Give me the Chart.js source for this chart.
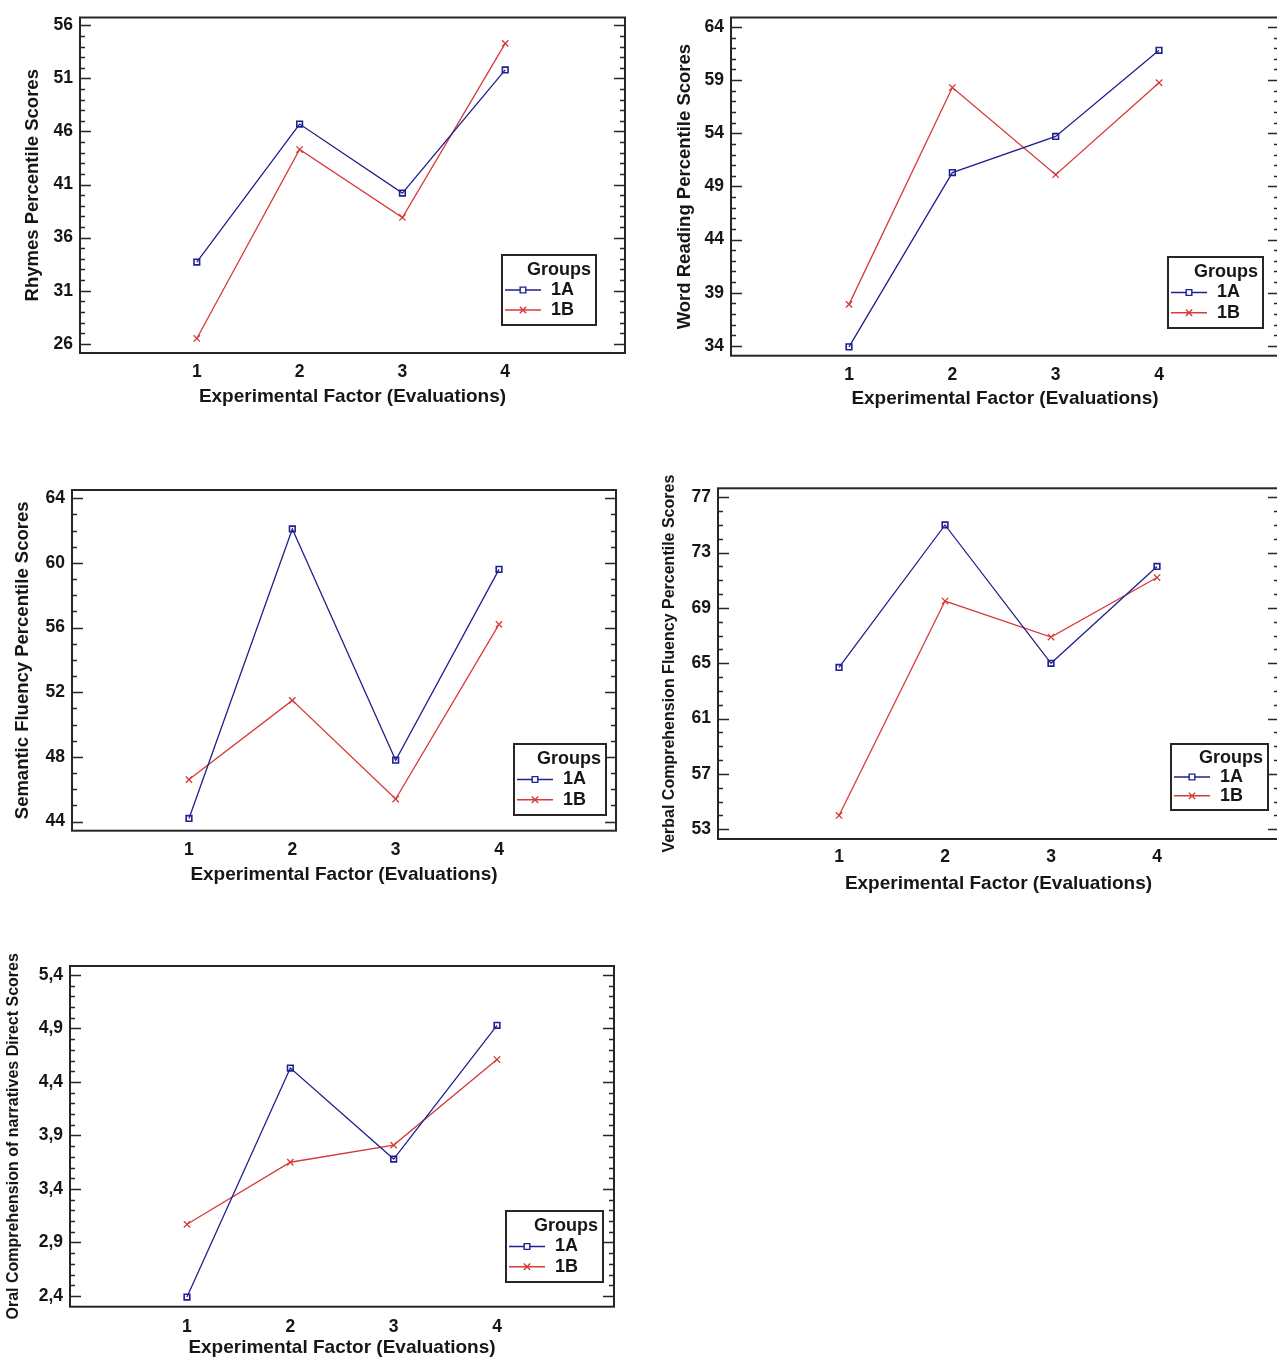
<!DOCTYPE html>
<html>
<head>
<meta charset="utf-8">
<script src="https://cdn.jsdelivr.net/npm/chart.js@4.4.1/dist/chart.umd.min.js"></script>
<style>
html, body { margin:0; padding:0; background:#ffffff; overflow:hidden; width:1277px; height:1361px; }
canvas.c { position:absolute; }
</style>
</head>
<body>
<canvas id="c1" class="c"></canvas>
<canvas id="c2" class="c"></canvas>
<canvas id="c3" class="c"></canvas>
<canvas id="c4" class="c"></canvas>
<canvas id="c5" class="c"></canvas>
<script>
// ---------------- DATA ----------------
const evaluations = [1, 2, 3, 4];
const groupNames = ['1A', '1B'];
const legendTitle = 'Groups';
const xTitle = 'Experimental Factor (Evaluations)';

const rhymes1A = [33.7, 46.7, 40.2, 51.8];
const rhymes1B = [26.5, 44.3, 37.9, 54.3];
const rhymesTicks = [26, 31, 36, 41, 46, 51, 56];

const reading1A = [33.9, 50.3, 53.7, 61.8];
const reading1B = [37.9, 58.3, 50.1, 58.75];
const readingTicks = [34, 39, 44, 49, 54, 59, 64];

const semantic1A = [44.2, 62.1, 47.8, 59.6];
const semantic1B = [46.6, 51.5, 45.4, 56.2];
const semanticTicks = [44, 48, 52, 56, 60, 64];

const verbal1A = [64.7, 75.0, 65.0, 72.0];
const verbal1B = [54.0, 69.5, 66.9, 71.2];
const verbalTicks = [53, 57, 61, 65, 69, 73, 77];

const oral1A = [2.39, 4.53, 3.68, 4.93];
const oral1B = [3.07, 3.65, 3.81, 4.61];
const oralTicks = [2.4, 2.9, 3.4, 3.9, 4.4, 4.9, 5.4];

// ---------------- STYLE ----------------
const FONT = "'Liberation Sans', Arial, Helvetica, sans-serif";
const TEXT = '#161616';
const FRAME = '#262626';
const BLUE = '#20208f';
const RED = '#d63a3a';

const fmtDot = v => String(v);
const fmtComma = v => v.toFixed(1).replace('.', ',');

const panels = [
  { id:'c1', canvas:{x:0, y:0, w:640, h:420}, frame:{l:80, t:13, r:625, b:353},
    xRange:[-0.136, 5.165], yRange:[25.13, 56.74], ticks:rhymesTicks, minorDiv:5, fmt:fmtDot,
    a:rhymes1A, b:rhymes1B, yTitle:'Rhymes Percentile Scores', yTitleSize:18.5, yTitleX:33,
    xLabelY:371.7, xTitleY:396.7, legend:{x:502, y:255, w:94, h:70} },
  { id:'c2', canvas:{x:640, y:0, w:645, h:420}, frame:{l:731, t:14, r:1279, b:355.7},
    xRange:[-0.142, 5.161], yRange:[33.07, 64.89], ticks:readingTicks, minorDiv:5, fmt:fmtDot,
    a:reading1A, b:reading1B, yTitle:'Word Reading Percentile Scores', yTitleSize:18.5, yTitleX:685,
    xLabelY:375, xTitleY:398.3, legend:{x:1168, y:257, w:95, h:71} },
  { id:'c3', canvas:{x:0, y:470, w:640, h:420}, frame:{l:72, t:490, r:616, b:830.7},
    xRange:[-0.132, 5.132], yRange:[43.44, 64.51], ticks:semanticTicks, minorDiv:4, fmt:fmtDot,
    a:semantic1A, b:semantic1B, yTitle:'Semantic Fluency Percentile Scores', yTitleSize:18.5, yTitleX:23,
    xLabelY:850, xTitleY:875, legend:{x:514, y:744, w:92, h:71} },
  { id:'c4', canvas:{x:640, y:460, w:645, h:440}, frame:{l:718, t:488.3, r:1279, b:839},
    xRange:[-0.142, 5.151], yRange:[52.3, 77.65], ticks:verbalTicks, minorDiv:4, fmt:fmtDot,
    a:verbal1A, b:verbal1B, yTitle:'Verbal Comprehension Fluency Percentile Scores', yTitleSize:16, yTitleX:670,
    xLabelY:856.7, xTitleY:883.3, legend:{x:1171, y:744, w:97, h:66} },
  { id:'c5', canvas:{x:0, y:940, w:640, h:421}, frame:{l:70, t:966, r:614, b:1306.7},
    xRange:[-0.132, 5.132], yRange:[2.3, 5.484], ticks:oralTicks, minorDiv:5, fmt:fmtComma,
    a:oral1A, b:oral1B, yTitle:'Oral Comprehension of narratives Direct Scores', yTitleSize:16, yTitleX:14,
    xLabelY:1326.7, xTitleY:1347.3, legend:{x:506, y:1211, w:97, h:71} }
];

const TICK_SIZE = 17.5;
const XTITLE_SIZE = 19;
const LH = 1.2;

const A_STYLE = { color:BLUE, pointStyle:'rect', radius:4, borderWidth:1.6 };
const B_STYLE = { color:RED, pointStyle:'crossRot', radius:4.5, borderWidth:1.3 };

// frame + inward major/minor ticks on both vertical sides
const framePlugin = {
  id:'frameTicks',
  afterDatasetsDraw(chart, args, opts) {
    const {ctx, chartArea:ca, scales:{y}} = chart;
    const P = opts.panel;
    ctx.save();
    ctx.strokeStyle = FRAME;
    ctx.lineWidth = 2;
    ctx.strokeRect(ca.left, ca.top, ca.right - ca.left, ca.bottom - ca.top);
    const t = P.ticks;
    const step = (t[1] - t[0]) / P.minorDiv;
    const kMin = Math.ceil((y.min - t[0]) / step - 1e-6);
    const kMax = Math.floor((y.max - t[0]) / step + 1e-6);
    ctx.lineWidth = 1.6;
    for (let k = kMin; k <= kMax; k++) {
      const v = t[0] + k * step;
      const py = Math.round(y.getPixelForValue(v)) + 0.5;
      if (py < ca.top + 1 || py > ca.bottom - 1) continue;
      const major = (((k % P.minorDiv) + P.minorDiv) % P.minorDiv) === 0;
      const len = major ? 11 : 5;
      ctx.beginPath();
      ctx.moveTo(ca.left, py); ctx.lineTo(ca.left + len, py);
      ctx.moveTo(ca.right, py); ctx.lineTo(ca.right - len, py);
      ctx.stroke();
    }
    ctx.restore();
  },
  afterDraw(chart, args, opts) {
    const P = opts.panel;
    const {ctx} = chart;
    const L = { x:P.legend.x - P.canvas.x, y:P.legend.y - P.canvas.y, w:P.legend.w, h:P.legend.h };
    ctx.save();
    ctx.fillStyle = '#ffffff';
    ctx.fillRect(L.x, L.y, L.w, L.h);
    ctx.strokeStyle = FRAME;
    ctx.lineWidth = 2;
    ctx.strokeRect(L.x, L.y, L.w, L.h);
    ctx.fillStyle = TEXT;
    ctx.font = 'bold 18px ' + FONT;
    ctx.textBaseline = 'middle';
    ctx.textAlign = 'right';
    ctx.fillText(legendTitle, L.x + L.w - 5, L.y + L.h * 0.215);
    const rows = [L.y + L.h * 0.5, L.y + L.h * 0.785];
    chart.data.datasets.forEach((ds, i) => {
      const yy = rows[i];
      ctx.strokeStyle = ds.borderColor;
      ctx.lineWidth = 1.4;
      ctx.beginPath();
      ctx.moveTo(L.x + 3, yy); ctx.lineTo(L.x + 39, yy);
      ctx.stroke();
      ctx.fillStyle = '#ffffff';
      ctx.strokeStyle = ds.borderColor;
      Chart.helpers.drawPoint(ctx, { pointStyle:ds.pointStyle, radius:ds.pointRadius, borderWidth:ds.pointBorderWidth, rotation:0 }, L.x + 21, yy);
      ctx.fillStyle = TEXT;
      ctx.textAlign = 'left';
      ctx.font = 'bold 18px ' + FONT;
      ctx.fillText(ds.label, L.x + 49, yy);
    });
    ctx.restore();
  }
};

function series(vals) { return evaluations.map((x, i) => ({ x, y: vals[i] })); }

function dataset(label, vals, st) {
  return {
    label, data: series(vals),
    borderColor: st.color, borderWidth: 1.3, tension: 0,
    pointStyle: st.pointStyle, pointRadius: st.radius, pointHoverRadius: st.radius,
    pointBorderColor: st.color, pointBackgroundColor: 'rgba(255,255,255,0)',
    pointBorderWidth: st.borderWidth, fill: false
  };
}

panels.forEach(P => {
  const cv = document.getElementById(P.id);
  const c = P.canvas, f = P.frame;
  cv.width = c.w; cv.height = c.h;
  cv.style.left = c.x + 'px'; cv.style.top = c.y + 'px';
  cv.style.width = c.w + 'px'; cv.style.height = c.h + 'px';

  const tickLH = TICK_SIZE * LH;
  const xTickPad = P.xLabelY - f.b - tickLH / 2;
  const xTitleLH = XTITLE_SIZE * LH;
  const xTitlePad = (c.y + c.h) - P.xTitleY - xTitleLH / 2;
  const yTitleLH = P.yTitleSize * LH;
  const yTitlePad = P.yTitleX - c.x - yTitleLH / 2;

  new Chart(cv, {
    type: 'line',
    data: { datasets: [ dataset(groupNames[0], P.a, A_STYLE), dataset(groupNames[1], P.b, B_STYLE) ] },
    options: {
      responsive: false, animation: false, devicePixelRatio: 1,
      layout: { padding: { top: f.t - c.y, right: (c.x + c.w) - f.r, left: 0, bottom: 0 } },
      plugins: { legend: { display: false }, tooltip: { enabled: false }, frameTicks: { panel: P } },
      scales: {
        x: {
          type: 'linear', position: 'bottom', min: P.xRange[0], max: P.xRange[1],
          afterBuildTicks: s => { s.ticks = evaluations.map(v => ({ value: v })); },
          afterFit: s => { s.height = (c.y + c.h) - f.b; },
          grid: { display: false, drawTicks: false }, border: { display: false },
          ticks: { padding: xTickPad, color: TEXT, autoSkip: false, maxRotation: 0,
                   font: { family: FONT, size: TICK_SIZE, weight: 'bold', lineHeight: LH },
                   callback: v => String(v) },
          title: { display: true, text: xTitle, color: TEXT,
                   font: { family: FONT, size: XTITLE_SIZE, weight: 'bold', lineHeight: LH },
                   padding: { top: 0, bottom: xTitlePad } }
        },
        y: {
          type: 'linear', position: 'left', min: P.yRange[0], max: P.yRange[1],
          afterBuildTicks: s => { s.ticks = P.ticks.map(v => ({ value: v })); },
          afterFit: s => { s.width = f.l - c.x; },
          grid: { display: false, drawTicks: false }, border: { display: false },
          ticks: { padding: 7, color: TEXT, autoSkip: false,
                   font: { family: FONT, size: TICK_SIZE, weight: 'bold', lineHeight: LH },
                   callback: v => P.fmt(v) },
          title: { display: true, text: P.yTitle, color: TEXT,
                   font: { family: FONT, size: P.yTitleSize, weight: 'bold', lineHeight: LH },
                   padding: { top: yTitlePad, bottom: 0 } }
        }
      }
    },
    plugins: [framePlugin]
  });
});
</script>
</body>
</html>
